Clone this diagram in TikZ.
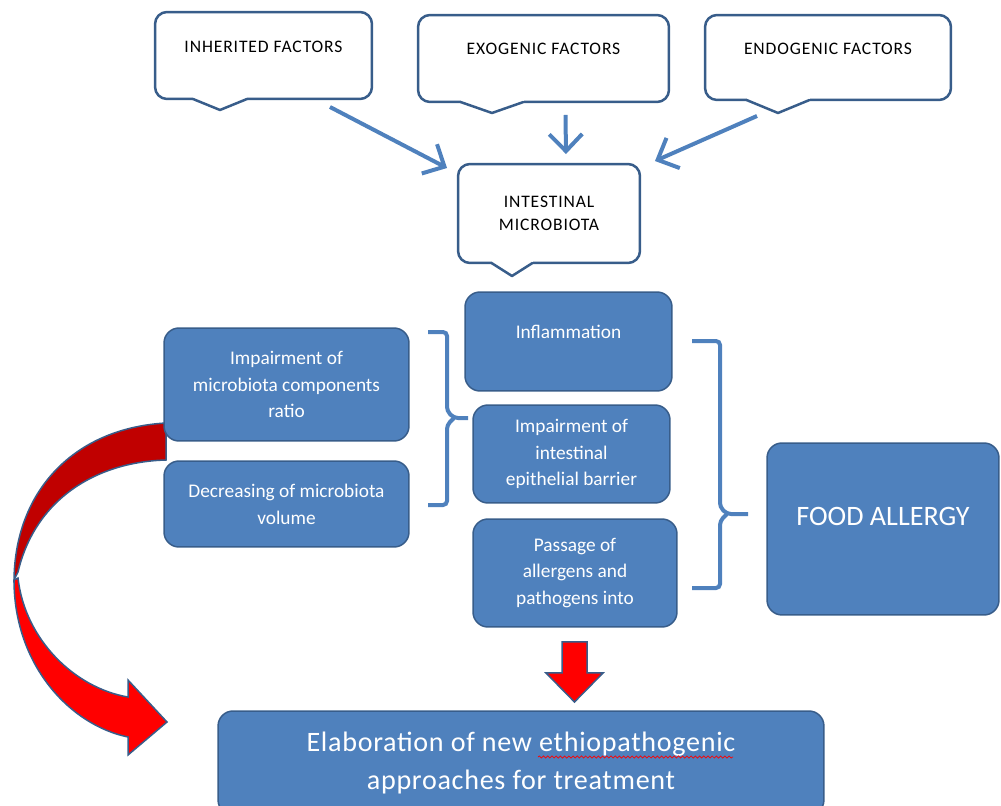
\documentclass[tikz,border=0pt]{standalone}
\usepackage{fontspec}
\setmainfont{Carlito}
\usetikzlibrary{arrows.meta, calc, decorations.pathmorphing}
\definecolor{boxblue}{HTML}{4F81BD}
\definecolor{edgeblue}{HTML}{385D8A}
\definecolor{darkred}{HTML}{C00000}
% tail of a callout: node, x offset, half width, depth (all in px)
\newcommand\DrawTail[4]{
	\fill[white] ($(#1.south)+(#2-#3,-2)$) rectangle ($(#1.south)+(#2+#3,2)$);
	\draw[tail] ($(#1.south)+(#2-#3,0)$) -- ($(#1.south)+(#2,#4)$) -- ($(#1.south)+(#2+#3,0)$);
}
% brace: [arm], x, top, bottom, middle, tip
\newcommand\DrawBrace[6][20]{
	\draw[brace] (#2-#1,#3) -- (#2,#3) -- (#2,#5-7) -- (#2+7,#5) -- (#6,#5);
	\draw[brace] (#2+7,#5) -- (#2,#5+7) -- (#2,#4) -- (#2-#1,#4);
}

\begin{document}
\begin{tikzpicture}[x=0.02cm, y=-0.02cm,
	every node/.style={inner sep=0pt, outer sep=0pt},
	factor/.style={draw=edgeblue, line width=0.05cm, fill=white, rounded corners=0.24cm, text=black, font=\fontsize{10}{13}\selectfont\addfontfeatures{LetterSpace=5}},
	box/.style={draw=edgeblue, line width=0.03cm, fill=boxblue, rounded corners=0.3cm, text=white, align=center, font=\fontsize{11}{15.3}\selectfont},
	flow/.style={draw=boxblue, line width=0.08cm, -{Straight Barb[length=0.34cm, width=0.66cm]}},
	brace/.style={draw=boxblue, line width=0.08cm, rounded corners=0.08cm},
	tail/.style={draw=edgeblue, line width=0.05cm, line cap=round, line join=round},
	bigarrow/.style={draw=edgeblue, line width=0.03cm, fill=red, line join=miter}]
	\useasboundingbox (0,0) rectangle (1001,805);

% red curved arrow
	\draw[bigarrow, fill=darkred] (166,423) .. controls (75,428) and (15,490) .. (14,580) -- (18,572) .. controls (35,500) and (95,462) .. (166,460) -- cycle;
	\draw[bigarrow] (14,580) .. controls (14,665) and (70,725) .. (128,737) -- (128,755) -- (167,722) -- (128,680) -- (128,697) .. controls (75,688) and (25,640) .. (18,578) -- cycle;

% callouts
	\node[factor, anchor=north, minimum width=4.34cm, text height=0.82cm, text depth=0.92cm] (inh) at (263.5,12) {INHERITED FACTORS};
	\node[factor, anchor=north, minimum width=5.02cm, text height=0.8cm, text depth=0.94cm] (exo) at (543.5,15) {EXOGENIC FACTORS};
	\node[factor, anchor=north, minimum width=4.92cm, text height=0.8cm, text depth=0.9cm] (endo) at (828,15) {ENDOGENIC FACTORS};
	\node[factor, align=center, minimum width=3.64cm, minimum height=1.98cm] (micro) at (549,213.5) {INTESTINAL\\MICROBIOTA};
	\DrawTail{inh}{-43.5}{27}{11}
	\DrawTail{exo}{-51.5}{31.5}{11}
	\DrawTail{endo}{-50}{31.5}{13}
	\DrawTail{micro}{-37}{20.5}{13}

	\draw[flow] ([xshift=-0.84cm, yshift=-0.16cm]inh.south east) -- ([xshift=-0.22cm, yshift=-0.08cm]micro.north west);
	\draw[flow] ([xshift=0.44cm, yshift=-0.26cm]exo.south) -- ([xshift=0.34cm, yshift=0.2cm]micro.north);
	\draw[flow] ([xshift=1.04cm, yshift=-0.32cm]endo.south west) -- ([xshift=0.3cm, yshift=0.06cm]micro.north east);

% boxes
	\node[box, minimum width=4.9cm, minimum height=2.26cm] (ratio) at (286.5,384.5) {Impairment of\\microbiota components\\ratio};
	\node[box, minimum width=4.9cm, minimum height=1.72cm] (volume) at (286.5,504) {Decreasing of microbiota\\volume};
	\node[box, anchor=north, minimum width=4.14cm, text height=0.94cm, text depth=1.04cm] (infl) at (568.5,292) {Inflammation};
	\node[box, minimum width=3.94cm, minimum height=1.96cm] (barrier) at (571.5,454) {Impairment of\\intestinal\\epithelial barrier};
	\node[box, minimum width=4.08cm, minimum height=2.16cm] (pass) at (575,573) {Passage of\\allergens and\\pathogens into};
	\node[box, anchor=north, minimum width=4.64cm, text height=1.66cm, text depth=1.78cm, font=\fontsize{16}{20}\selectfont] (food) at (883,443) {FOOD ALLERGY};
	\node[box, anchor=north, minimum width=12.12cm, minimum height=2.08cm, font=\fontsize{16}{21.5}\selectfont\addfontfeatures{LetterSpace=2.5}] (elab) at (521,711) {Elaboration of new ethiopathogenic\\approaches for treatment};
	\draw[red, line width=0.4pt, decorate, decoration={snake, amplitude=0.6pt, segment length=2.4pt}] (538,757) -- (733,757);

	\DrawBrace[19]{447}{332}{505}{418}{468}
	\DrawBrace[28]{720}{341}{588}{514}{748}

	\draw[bigarrow] ($(pass.south)+(-13,15)$) -- ++(25,0) -- ++(0,31) -- ++(16,0) -- ++(-28.5,29) -- ++(-28.5,-29) -- ++(16,0) -- cycle;
\end{tikzpicture}
\end{document}
